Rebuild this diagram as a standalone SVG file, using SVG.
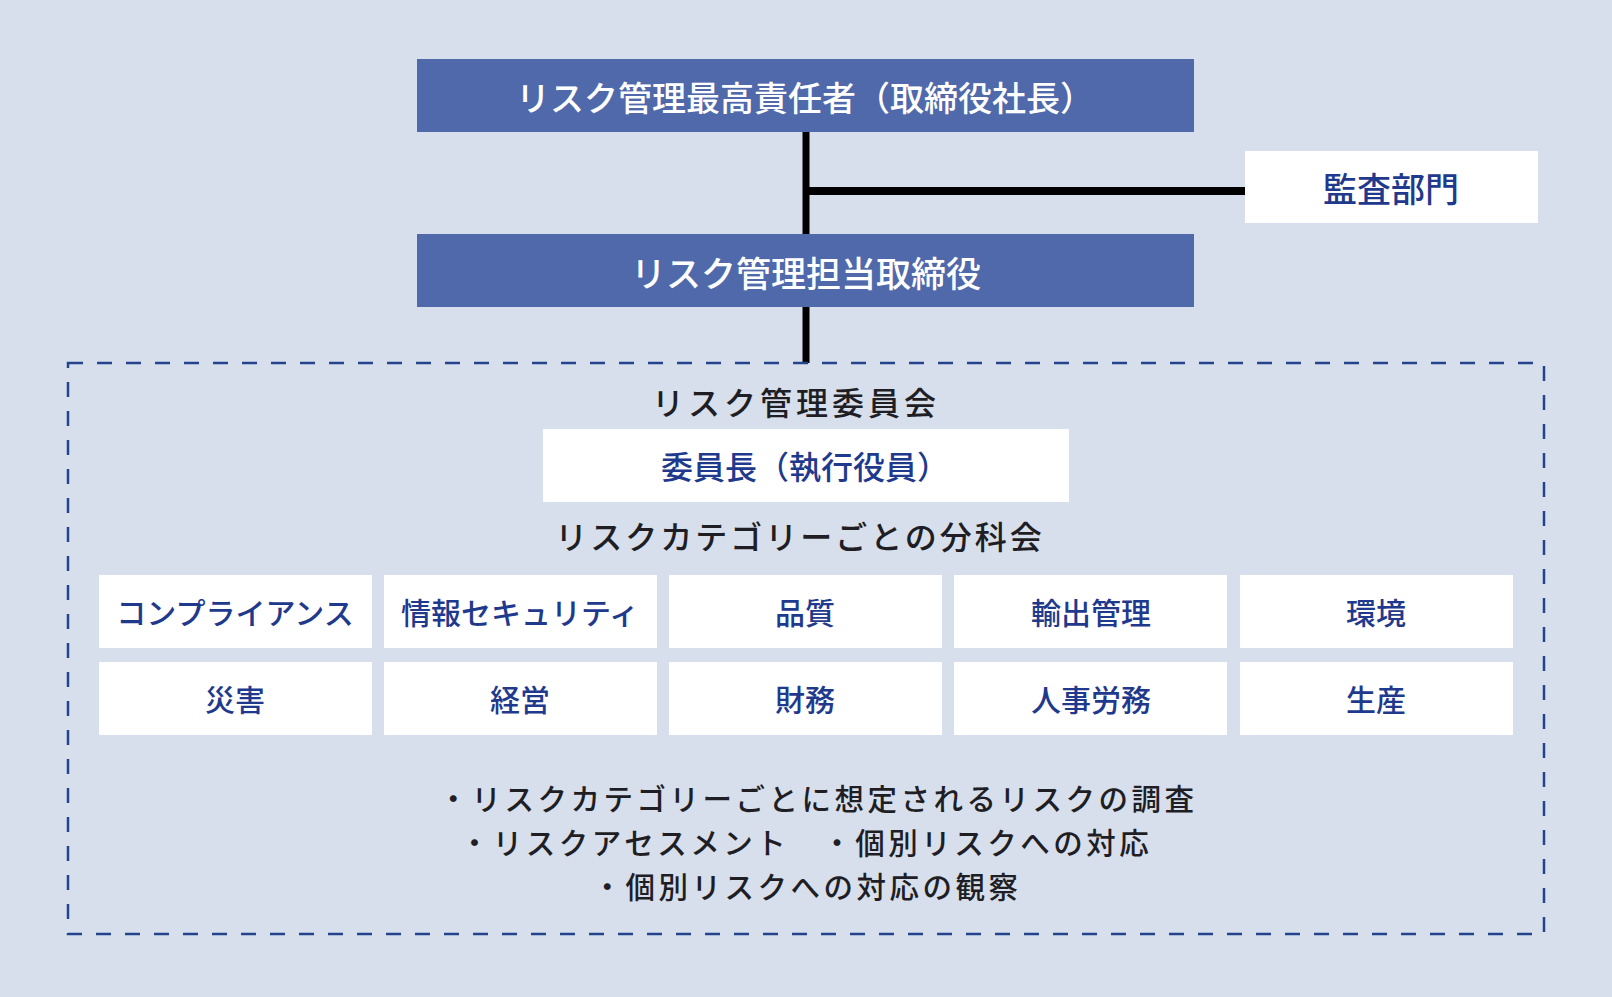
<svg xmlns="http://www.w3.org/2000/svg" width="1612" height="997" viewBox="0 0 1612 997">
<style>
text{font-family:"Noto Sans CJK JP","Noto Sans CJK SC",sans-serif;text-anchor:middle;dominant-baseline:central;font-weight:500}
.hdr{fill:#4f69ab}
.wbox{fill:#ffffff}
.wt{fill:#ffffff;font-size:34px}
.bt{fill:#1f3a8c;font-size:30px}
.dk{fill:#1e1e24;font-size:32px}
.duty{fill:#1e1e24;font-size:29.5px;letter-spacing:3.5px}
.conn{stroke:#000;fill:none}
</style>
<rect x="0" y="0" width="1612" height="997" fill="#d7dfec"/>
<g id="connectors">
<line class="conn" x1="806" y1="132" x2="806" y2="234" stroke-width="7"/>
<line class="conn" x1="806" y1="191" x2="1245" y2="191" stroke-width="8"/>
<line class="conn" x1="806" y1="307" x2="806" y2="363" stroke-width="7"/>
</g>
<g id="ceo">
<rect class="hdr" x="417" y="59" width="777" height="73"/>
<text class="wt" x="805" y="96">リスク管理最高責任者（取締役社長）</text>
</g>
<g id="audit">
<rect class="wbox" x="1245" y="151" width="293" height="72"/>
<text class="bt" x="1391" y="187" style="font-size:34px">監査部門</text>
</g>
<g id="director">
<rect class="hdr" x="417" y="234" width="777" height="73"/>
<text class="wt" x="806" y="271" style="font-size:35px">リスク管理担当取締役</text>
</g>
<g id="committee">
<rect x="68" y="363" width="1476" height="571" fill="none" stroke="#23438c" stroke-width="2.5" stroke-dasharray="15 14"/>
<text class="dk" x="796" y="401" style="letter-spacing:4px">リスク管理委員会</text>
</g>
<g id="chair">
<rect class="wbox" x="543" y="429" width="526" height="73"/>
<text class="bt" x="805" y="465" style="font-size:32px">委員長（執行役員）</text>
</g>
<g id="subcommittee-title">
<text class="dk" x="800" y="535" style="letter-spacing:3px">リスクカテゴリーごとの分科会</text>
</g>
<g id="cat-compliance"><rect class="wbox" x="99" y="575" width="273" height="73"/><text class="bt" x="235" y="611">コンプライアンス</text></g>
<g id="cat-infosec"><rect class="wbox" x="384" y="575" width="273" height="73"/><text class="bt" x="520" y="611">情報セキュリティ</text></g>
<g id="cat-quality"><rect class="wbox" x="669" y="575" width="273" height="73"/><text class="bt" x="805" y="611">品質</text></g>
<g id="cat-export"><rect class="wbox" x="954" y="575" width="273" height="73"/><text class="bt" x="1091" y="611">輸出管理</text></g>
<g id="cat-env"><rect class="wbox" x="1240" y="575" width="273" height="73"/><text class="bt" x="1376" y="611">環境</text></g>
<g id="cat-disaster"><rect class="wbox" x="99" y="662" width="273" height="73"/><text class="bt" x="235" y="698">災害</text></g>
<g id="cat-management"><rect class="wbox" x="384" y="662" width="273" height="73"/><text class="bt" x="520" y="698">経営</text></g>
<g id="cat-finance"><rect class="wbox" x="669" y="662" width="273" height="73"/><text class="bt" x="805" y="698">財務</text></g>
<g id="cat-hr"><rect class="wbox" x="954" y="662" width="273" height="73"/><text class="bt" x="1091" y="698">人事労務</text></g>
<g id="cat-production"><rect class="wbox" x="1240" y="662" width="273" height="73"/><text class="bt" x="1376" y="698">生産</text></g>
<g id="duties">
<text class="duty" x="818" y="797">・リスクカテゴリーごとに想定されるリスクの調査</text>
<text class="duty" x="806" y="841">・リスクアセスメント　・個別リスクへの対応</text>
<text class="duty" x="807" y="885">・個別リスクへの対応の観察</text>
</g>
</svg>
